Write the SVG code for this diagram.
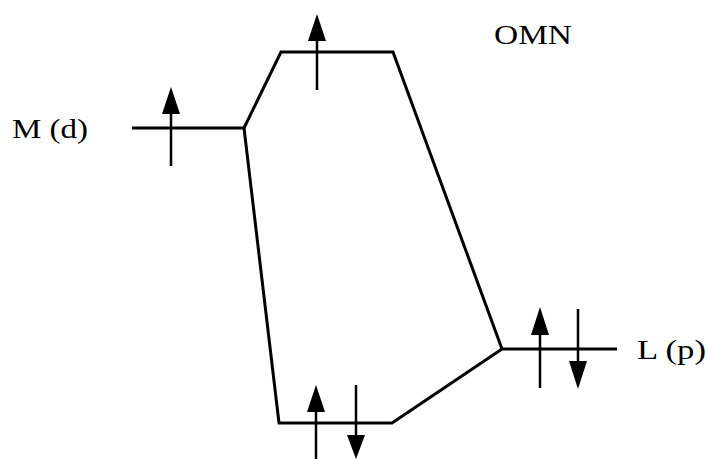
<svg xmlns="http://www.w3.org/2000/svg" width="707" height="459" viewBox="0 0 707 459">
<style>
.lv{stroke:#000;stroke-width:3;fill:none;stroke-linejoin:miter}
.ar{stroke:#000;stroke-width:2.5;fill:none}
.hd{fill:#000}
.t{font-family:"Liberation Serif",serif;font-size:28px;fill:#000}
</style>
<rect width="707" height="459" fill="#fff"/>
<g id="connectors">
<polyline class="lv" points="132,128 244,128 281,52 393,52 502,349"/>
<polyline class="lv" points="244,128 279,423 392,423 502,349 617,349"/>
</g>
<g id="arrows">
<line class="ar" x1="171" y1="166" x2="171" y2="100"/>
<path class="hd" d="M162,114 L171,87 L180,114 Z"/>
<line class="ar" x1="317" y1="90" x2="317" y2="27"/>
<path class="hd" d="M308,41 L317,14 L326,41 Z"/>
<line class="ar" x1="540" y1="388" x2="540" y2="320"/>
<path class="hd" d="M531,335 L540,307 L549,335 Z"/>
<line class="ar" x1="578" y1="309" x2="578" y2="375"/>
<path class="hd" d="M569,361 L578,389 L587,361 Z"/>
<line class="ar" x1="316" y1="459" x2="316" y2="398"/>
<path class="hd" d="M307,412 L316,385 L325,412 Z"/>
<line class="ar" x1="356" y1="385" x2="356" y2="448"/>
<path class="hd" d="M347,435 L356,459 L365,435 Z"/>
</g>
<g id="labels">
<text class="t" x="12" y="138" textLength="76" lengthAdjust="spacingAndGlyphs">M (d)</text>
<text class="t" x="494" y="44" textLength="78" lengthAdjust="spacingAndGlyphs">OMN</text>
<text class="t" x="637" y="359" textLength="69" lengthAdjust="spacingAndGlyphs">L (p)</text>
</g>
</svg>
